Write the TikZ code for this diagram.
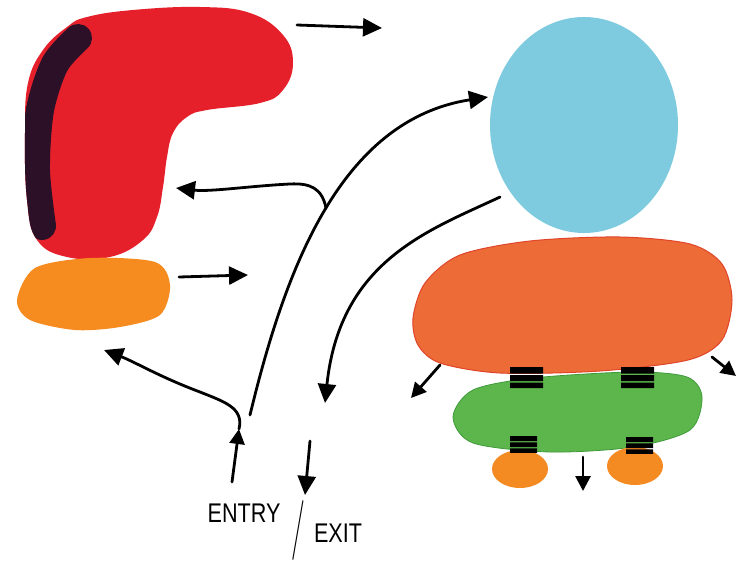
\documentclass[tikz,border=0pt]{standalone}
\usepackage{fontspec}
\setmainfont{Liberation Sans}
\usetikzlibrary{arrows.meta}
\definecolor{redc}{HTML}{E6202B}
\definecolor{darkc}{HTML}{2C1028}
\definecolor{orsmall}{HTML}{F68C1F}
\definecolor{bluec}{HTML}{7ECBE0}
\definecolor{orbig}{HTML}{EC6B37}
\definecolor{orbigedge}{HTML}{E0452A}
\definecolor{greenc}{HTML}{5DB64C}
\definecolor{greenedge}{HTML}{3F9A3A}
\definecolor{feetc}{HTML}{F48A22}
\begin{document}
\begin{tikzpicture}[x=1pt,y=-1pt,line join=round,
  arr/.style={line width=2.8pt,line cap=round,-{Triangle[length=19pt,width=18pt]}},
  sarr/.style={line width=2.8pt,line cap=round,-{Triangle[length=15pt,width=15pt]}},
  txt/.style={font=\fontsize{27}{27}\selectfont,xscale=0.8,inner sep=0pt},
  bars/.pic={\fill[black] (0,0) rectangle (33,6.5) (0,8) rectangle (33,14) (0,15.5) rectangle (33,21);}]
\useasboundingbox[fill=white] (0,0) rectangle (738,567);

% red organ
\fill[redc] plot[smooth cycle,tension=0.7] coordinates {(67,27) (87,17) (133,10) (200,7) (250,13) (283,35) (293,63) (283,90) (260,103) (207,110) (187,117) (173,133) (167,157) (163,187) (157,217) (143,240) (110,257) (67,257) (37,240) (27,200) (25,133) (28,83) (43,50)};
\begin{scope}
\clip plot[smooth cycle,tension=0.7] coordinates {(67,27) (87,17) (133,10) (200,7) (250,13) (283,35) (293,63) (283,90) (260,103) (207,110) (187,117) (173,133) (167,157) (163,187) (157,217) (143,240) (110,257) (67,257) (37,240) (27,200) (25,133) (28,83) (43,50)};
\draw[darkc,line width=28pt,line cap=round] plot[smooth] coordinates {(78,38) (55,64) (40,110) (36,170) (42,226)};
\end{scope}

% small orange
\fill[orsmall] plot[smooth cycle] coordinates {(35,268) (90,258) (155,262) (170,285) (160,315) (120,327) (75,330) (30,320) (17,300)};

% blue
\fill[bluec] (584,125) ellipse [x radius=94,y radius=108];

% big orange
\filldraw[fill=orbig,draw=orbigedge,line width=1pt] plot[smooth cycle] coordinates {(425,283) (460,255) (530,241) (620,237) (690,244) (722,264) (732,300) (722,340) (688,360) (600,371) (500,373) (440,363) (418,345) (413,318)};

% green
\filldraw[fill=greenc,draw=greenedge,line width=0.8pt] plot[smooth cycle] coordinates {(473,390) (533,378) (633,372) (687,377) (702,397) (690,430) (633,447) (550,452) (473,443) (453,417)};

% feet
\fill[feetc] (520,469) ellipse [x radius=28,y radius=19];
\fill[feetc] (635,466) ellipse [x radius=28,y radius=19];

% bars
\pic at (510,367) {bars};
\pic at (621,367) {bars};
\pic[xscale=0.82,yscale=0.8] at (510,436) {bars};
\pic[xscale=0.82,yscale=0.8] at (626,437) {bars};

% coordinates
\coordinate (r1) at (297,25);  \coordinate (r2) at (382,28);
\coordinate (o1) at (179,277); \coordinate (o2) at (248,275);
\coordinate (c1) at (250,415); \coordinate (c2) at (488,97);
\coordinate (j)  at (326,208); \coordinate (rt) at (176,188);
\coordinate (b1) at (500,197); \coordinate (b2) at (325,403);
\coordinate (e1) at (232,482); \coordinate (e2) at (239,429);
\coordinate (ot) at (104,350);
\coordinate (x1) at (310,441); \coordinate (x2) at (305,495);
\coordinate (l1) at (440,365); \coordinate (l2) at (411,398);
\coordinate (g1) at (712,357); \coordinate (g2) at (736,376);
\coordinate (d1) at (583,457); \coordinate (d2) at (583,491);

% arrows
\draw[arr] (r1) -- (r2);
\draw[arr] (o1) -- (o2);
\draw[arr] (c1) .. controls (285,270) and (340,120) .. (c2);
\draw[arr] (j) .. controls (322,188) and (310,183) .. (290,184) .. controls (250,186) and (210,192) .. (rt);
\draw[arr] (b1) .. controls (430,230) and (340,260) .. (b2);
\draw[sarr] (e1) -- (e2);
\draw[arr] (e2) .. controls (244,408) and (225,402) .. (200,392) .. controls (160,377) and (135,362) .. (ot);
\draw[arr] (x1) -- (x2);
\draw[sarr] (l1) -- (l2);
\draw[sarr] (g1) -- (g2);
\draw[sarr] (d1) -- (d2);

% text
\node[txt] (entry) at (244,513) {ENTRY};
\node[inner sep=0pt,yscale=2,font=\fontfamily{lmr}\fontsize{30}{30}\selectfont] (slash) at (298,530) {/};
\node[txt] (exit) at (338,533) {EXIT};
\end{tikzpicture}
\end{document}
